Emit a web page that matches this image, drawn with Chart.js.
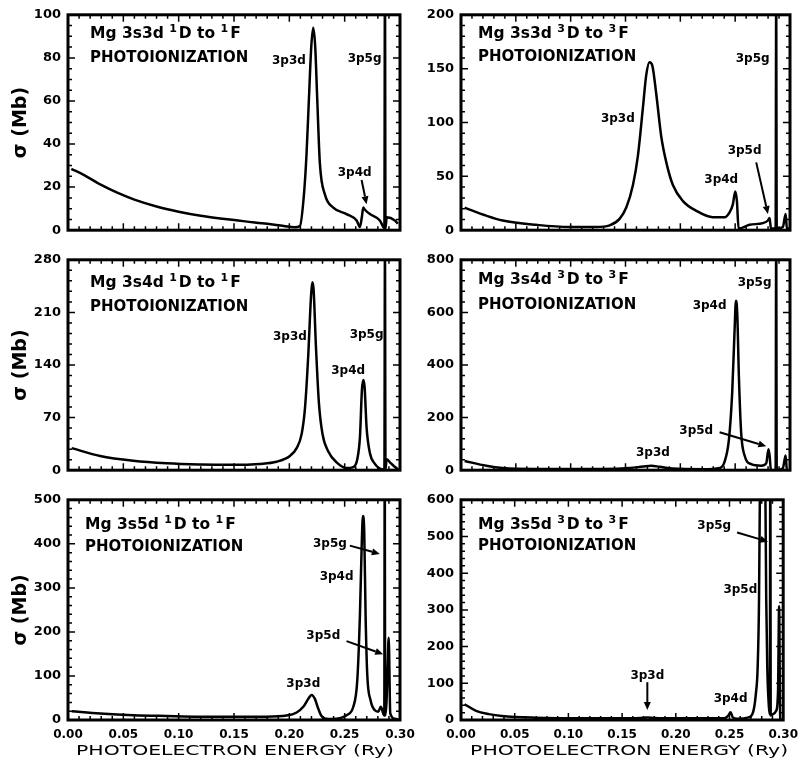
<!DOCTYPE html>
<html>
<head>
<meta charset="utf-8">
<script src="https://cdn.jsdelivr.net/npm/chart.js@4.4.1/dist/chart.umd.min.js"></script>
<style>
  html, body { margin: 0; padding: 0; background: #fff; }
  body { width: 806px; height: 768px; position: relative; overflow: hidden; }
  .box { position: absolute; }
</style>
</head>
<body>
<div class="box" style="left:0;top:0;width:440px;height:245px"><canvas id="p1"></canvas></div>
<div class="box" style="left:0;top:245px;width:440px;height:240px"><canvas id="p3"></canvas></div>
<div class="box" style="left:0;top:485px;width:440px;height:283px"><canvas id="p5"></canvas></div>
<div class="box" style="left:403px;top:0;width:403px;height:245px"><canvas id="p2"></canvas></div>
<div class="box" style="left:403px;top:245px;width:403px;height:240px"><canvas id="p4"></canvas></div>
<div class="box" style="left:403px;top:485px;width:403px;height:283px"><canvas id="p6"></canvas></div>
<script>
'use strict';

// photoelectron energy (Ry) / cross section (Mb)
const E1 = [0.003,0.015,0.03,0.045,0.06,0.08,0.1,0.12,0.14,0.16,0.18,0.195,0.205,0.2096,0.2132,0.2155,0.2177,0.2198,0.2216,0.2234,0.2252,0.2276,0.2322,0.2397,0.2517,0.2608,0.2638,0.2655,0.2668,0.2683,0.2728,0.2818,0.2849,0.2859,0.2864,0.2869,0.288,0.2954,0.298];
const S1 = [28.5,25.5,21,17.3,14.2,11,8.6,6.7,5.3,4.1,3,2,1.4,2,16.5,35,61,85,94,85,61,31,16.5,10.5,7.5,4.5,1.5,6,10.5,9.5,7.5,4.5,1.5,1,120,1,6,4.5,3];

const E2 = [0.0033,0.023,0.038,0.0687,0.099,0.123,0.1355,0.1446,0.1507,0.1568,0.1613,0.1659,0.1689,0.1719,0.1744,0.1781,0.1826,0.1872,0.1932,0.2024,0.2145,0.2297,0.2404,0.2449,0.2479,0.2501,0.2516,0.2531,0.2631,0.2753,0.2799,0.2814,0.2826,0.2859,0.2869,0.2874,0.2879,0.2935,0.296,0.2972,0.2996];
const S2 = [21,13.5,9,5,3,3,4.5,10.5,21,42,69,114,144,156,153,126,87,63,42,27,18,12,12,16.5,24,36,27,1.5,5,6.6,9,11.4,1.5,1.5,1.5,210,1.5,3,15,1.5,1.5];

const E3 = [0.0033,0.029,0.059,0.089,0.119,0.149,0.173,0.1885,0.2005,0.2066,0.2111,0.2141,0.2171,0.2195,0.2207,0.2219,0.224,0.2267,0.23,0.2352,0.2427,0.2517,0.2578,0.2614,0.2638,0.2656,0.2668,0.268,0.2698,0.2728,0.2773,0.2818,0.2849,0.2859,0.2864,0.2869,0.2879,0.2909,0.2954,0.2984];
const S3 = [29.4,19,12.6,9.2,7.6,7.1,8.4,11.3,19,29.4,48,82,153,229,250,241,166,90,48,25,10.5,2.9,4.2,14.7,44,107,120,111,57,23,8.4,2,1,1,300,1,14.7,10.5,4.2,1.3];

const E4 = [0.0033,0.023,0.038,0.0687,0.129,0.154,0.166,0.1735,0.181,0.193,0.2206,0.236,0.2403,0.2443,0.2473,0.2495,0.2507,0.2519,0.2534,0.2555,0.2586,0.2647,0.2738,0.2783,0.2804,0.2814,0.2826,0.2859,0.2869,0.2874,0.2879,0.2935,0.296,0.2972,0.2996];
const S4 = [35,17,8.4,5,5,8.4,14,17,13,6,3.6,8.4,32,116,296,536,644,596,356,140,56,23,17,26,80,56,0,0,0,900,0,8,56,0,0];

const E5 = [0.0033,0.029,0.059,0.089,0.119,0.179,0.1975,0.2066,0.2126,0.2171,0.2201,0.2231,0.2261,0.2291,0.2352,0.2427,0.2517,0.2578,0.2614,0.2638,0.2653,0.2665,0.2677,0.2689,0.2704,0.2734,0.2773,0.2803,0.2827,0.2848,0.2858,0.2862,0.2866,0.2878,0.2888,0.2898,0.2912,0.2954,0.2984];
const S5 = [20,15,11,9,7.5,7.5,10,17,30,48,57,48,26,9,2,3,11,30,90,239,388,463,425,239,104,45,22,19,30,15,10,600,10,40,120,187,15,3,1.5];

const E6 = [0.0033,0.014,0.026,0.038,0.0687,0.1143,0.16,0.1735,0.187,0.245,0.2489,0.251,0.2531,0.257,0.2677,0.2723,0.2745,0.2762,0.2775,0.2785,0.2797,0.281,0.2822,0.2832,0.2842,0.2852,0.2866,0.2876,0.288,0.2884,0.2905,0.2935,0.2952,0.2962,0.2972,0.2985];
const S6 = [43,25,16,11,6.3,4.5,4.5,7,4.5,4.5,12,21,7,3.6,7,25,70,142,330,700,1200,1400,1200,700,330,142,40,15,800,12,16,25,80,310,5,2];

const X_TICKS = [0, 0.05, 0.1, 0.15, 0.2, 0.25, 0.3];

const pts = (xs, ys) => xs.map((x, i) => ({ x, y: ys[i] }));

const panels = [
  { id: 'p1', e: E1, s: S1, max: 100, step: 20, minor: 5, left: true, row: 0,
    title: ['Mg 3s3d ', ['1'], 'D to ', ['1'], 'F'], tx: 22, ty: [23, 47],
    labels: [['3p3d', 0.1996, 78.5], ['3p5g', 0.268, 79.4], ['3p4d', 0.259, 26.5]],
    arrows: [[0.2653, 23.3, 0.2698, 12]] },
  { id: 'p2', e: E2, s: S2, max: 200, step: 50, minor: 10, left: false, row: 0,
    title: ['Mg 3s3d ', ['3'], 'D to ', ['3'], 'F'], tx: 17, ty: [23, 46],
    labels: [['3p5g', 0.266, 158.7], ['3p3d', 0.143, 103.4], ['3p4d', 0.2373, 46.6], ['3p5d', 0.2586, 73.5]],
    arrows: [[0.2692, 63, 0.2799, 15]] },
  { id: 'p3', e: E3, s: S3, max: 280, step: 70, minor: 14, left: true, row: 1,
    title: ['Mg 3s4d ', ['1'], 'D to ', ['1'], 'F'], tx: 22, ty: [27, 51],
    labels: [['3p3d', 0.2005, 178], ['3p5g', 0.2698, 180.5], ['3p4d', 0.2532, 132]],
    arrows: [] },
  { id: 'p4', e: E4, s: S4, max: 800, step: 200, minor: 40, left: false, row: 1,
    title: ['Mg 3s4d ', ['3'], 'D to ', ['3'], 'F'], tx: 17, ty: [24, 49],
    labels: [['3p5g', 0.2677, 712], ['3p4d', 0.2267, 623], ['3p5d', 0.2145, 150.6], ['3p3d', 0.175, 67]],
    arrows: [[0.2358, 144.6, 0.2784, 90.8]] },
  { id: 'p5', e: E5, s: S5, max: 500, step: 100, minor: 20, left: true, row: 2,
    title: ['Mg 3s5d ', ['1'], 'D to ', ['1'], 'F'], tx: 17, ty: [29, 51],
    labels: [['3p5g', 0.2367, 399.5], ['3p4d', 0.2427, 325], ['3p5d', 0.2307, 190.6], ['3p3d', 0.2126, 82]],
    arrows: [[0.2547, 396, 0.2818, 377], [0.2517, 179, 0.2848, 149.5]] },
  { id: 'p6', e: E6, s: S6, max: 600, step: 100, minor: 20, left: false, row: 2,
    title: ['Mg 3s5d ', ['3'], 'D to ', ['3'], 'F'], tx: 17, ty: [29, 50],
    labels: [['3p5g', 0.2358, 529], ['3p5d', 0.2601, 354], ['3p3d', 0.1735, 121], ['3p4d', 0.251, 58]],
    arrows: [[0.2571, 511, 0.2859, 486], [0.1735, 103, 0.1735, 27]] },
];

const FONT = '"DejaVu Sans", sans-serif';

// frame + inward ticks on all four sides
const frame = {
  id: 'frame',
  afterDatasetsDraw(chart) {
    const p = panels.find(q => q.id === chart.canvas.id);
    const { ctx, chartArea: a, scales: { x, y } } = chart;
    ctx.save();
    ctx.strokeStyle = '#000';
    ctx.lineWidth = 1.5;
    ctx.beginPath();
    for (let i = 0; i <= 30; i++) {
      const px = x.getPixelForValue(i * 0.01);
      const len = i % 5 === 0 ? 7 : 4;
      ctx.moveTo(px, a.bottom); ctx.lineTo(px, a.bottom - len);
      ctx.moveTo(px, a.top); ctx.lineTo(px, a.top + len);
    }
    const n = Math.round(p.max / p.minor);
    const per = Math.round(p.step / p.minor);
    for (let i = 0; i <= n; i++) {
      const py = y.getPixelForValue(i * p.minor);
      const len = i % per === 0 ? 7 : 4;
      ctx.moveTo(a.left, py); ctx.lineTo(a.left + len, py);
      ctx.moveTo(a.right, py); ctx.lineTo(a.right - len, py);
    }
    ctx.stroke();
    ctx.lineWidth = 3;
    ctx.strokeRect(a.left, a.top, a.right - a.left, a.bottom - a.top);
    ctx.restore();
  }
};

// panel titles, resonance labels, arrows, x axis title
const notes = {
  id: 'notes',
  afterDraw(chart) {
    const p = panels.find(q => q.id === chart.canvas.id);
    const { ctx, chartArea: a, scales: { x, y } } = chart;
    ctx.save();
    ctx.fillStyle = '#000';
    ctx.strokeStyle = '#000';
    ctx.textAlign = 'left';
    ctx.textBaseline = 'alphabetic';
    let cx = a.left + p.tx;
    for (const part of p.title) {
      const sup = Array.isArray(part);
      const txt = sup ? part[0] : part;
      ctx.font = sup ? 'bold 11px ' + FONT : 'bold 15.5px ' + FONT;
      ctx.fillText(txt, cx, a.top + p.ty[0] - (sup ? 6 : 0));
      cx += ctx.measureText(txt).width + (sup ? 2 : 0);
    }
    ctx.font = 'bold 15px ' + FONT;
    ctx.fillText('PHOTOIONIZATION', a.left + p.tx, a.top + p.ty[1]);

    ctx.font = 'bold 12px ' + FONT;
    ctx.textAlign = 'center';
    ctx.textBaseline = 'middle';
    for (const [t, ex, ev] of p.labels) {
      ctx.fillText(t, x.getPixelForValue(ex), y.getPixelForValue(ev));
    }

    ctx.lineWidth = 2;
    for (const [e1, v1, e2, v2] of p.arrows) {
      const x1 = x.getPixelForValue(e1), y1 = y.getPixelForValue(v1);
      const x2 = x.getPixelForValue(e2), y2 = y.getPixelForValue(v2);
      const ang = Math.atan2(y2 - y1, x2 - x1);
      const hl = 8, hw = 3.5;
      const bx = x2 - hl * Math.cos(ang), by = y2 - hl * Math.sin(ang);
      ctx.beginPath();
      ctx.moveTo(x1, y1);
      ctx.lineTo(bx, by);
      ctx.stroke();
      ctx.beginPath();
      ctx.moveTo(x2, y2);
      ctx.lineTo(bx + hw * Math.sin(ang), by - hw * Math.cos(ang));
      ctx.lineTo(bx - hw * Math.sin(ang), by + hw * Math.cos(ang));
      ctx.closePath();
      ctx.fill();
    }

    if (p.row === 2) {
      const t = 'PHOTOELECTRON ENERGY (Ry)';
      ctx.font = '14.5px ' + FONT;
      const w = ctx.measureText(t).width;
      ctx.translate((a.left + a.right) / 2 + (p.left ? 1 : 7), a.bottom + 34.5);
      ctx.scale(318 / w, 1);
      ctx.textAlign = 'center';
      ctx.textBaseline = 'alphabetic';
      ctx.fillText(t, 0, 0);
    }
    ctx.restore();
  }
};

for (const p of panels) {
  const bottom = p.row === 2;
  const pad = [
    { top: 14, bottom: 8 },
    { top: 9, bottom: 8 },
    { top: 12, bottom: 0 },
  ][p.row];
  new Chart(document.getElementById(p.id), {
    type: 'line',
    data: {
      datasets: [{
        data: pts(p.e, p.s),
        borderColor: '#000',
        borderWidth: 2.5,
        pointRadius: 0,
        fill: false,
        cubicInterpolationMode: 'monotone',
      }]
    },
    options: {
      animation: false,
      responsive: true,
      maintainAspectRatio: false,
      layout: { padding: { left: 0, right: p.left ? 40 : 16, top: pad.top, bottom: pad.bottom } },
      plugins: { legend: { display: false }, tooltip: { enabled: false } },
      scales: {
        x: {
          type: 'linear', min: 0, max: 0.3,
          grid: { display: false, drawTicks: false },
          border: { display: false },
          afterBuildTicks: s => { s.ticks = X_TICKS.map(v => ({ value: v })); },
          ticks: {
            display: bottom, autoSkip: false, maxRotation: 0, padding: 8,
            color: '#000', font: { family: FONT, size: 12, weight: 'bold' },
            callback: v => v.toFixed(2),
          },
          afterFit: s => { s.height = bottom ? 48 : 0; },
        },
        y: {
          min: 0, max: p.max,
          grid: { display: false, drawTicks: false },
          border: { display: false },
          ticks: {
            stepSize: p.step, padding: 7, color: '#000',
            font: { family: FONT, size: 13, weight: 'bold' },
          },
          title: {
            display: p.left, text: 'σ (Mb)', color: '#000',
            font: { family: FONT, size: 19, weight: 'bold', lineHeight: 1 },
            padding: { top: 12, bottom: 0 },
          },
          afterFit: s => { s.width = p.left ? 68 : 58; },
        }
      }
    },
    plugins: [frame, notes]
  });
}
</script>
</body>
</html>
